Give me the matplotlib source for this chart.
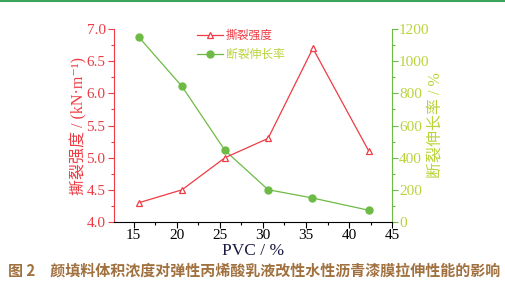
import matplotlib.pyplot as plt
from matplotlib.ticker import MultipleLocator
#
#--data
pvc=[15.6,20.6,25.6,30.6,35.8,42.3]
tear=[4.3,4.5,5.0,5.3,6.7,5.1]          #--kN/m
pvc_el=[15.6,20.6,25.6,30.6,35.7,42.3]
elong=[1150,844,445,201,150,73]          #--%
#
red='#ee3b44'
green='#6dbb45'
ygreen='#b9d43a'
serif=['Liberation Serif','DejaVu Serif']
cjk=['Noto Sans CJK SC','DejaVu Sans']
mixed=['Liberation Serif','Noto Sans CJK SC','DejaVu Serif']
#
fig=plt.figure(figsize=(5.06,2.85),dpi=100)
ax=fig.add_axes([0.225,0.221,0.55,0.677])
ax2=ax.twinx()
#
l1,=ax.plot(pvc,tear,color=red,lw=0.9,marker='^',mfc='white',mec=red,ms=5,mew=0.9,label='撕裂强度')
l2,=ax2.plot(pvc_el,elong,color=green,lw=0.9,marker='o',mfc=green,mec=green,ms=5,label='断裂伸长率')
ax.set_zorder(ax2.get_zorder()+1)
ax.patch.set_visible(False)
#
ax.set_xlim(12.7,45)
ax.set_ylim(4.0,7.0)
ax2.set_ylim(0,1200)
ax.xaxis.set_major_locator(MultipleLocator(5))
ax.xaxis.set_minor_locator(MultipleLocator(2.5))
ax.yaxis.set_major_locator(MultipleLocator(0.5))
ax.yaxis.set_minor_locator(MultipleLocator(0.25))
ax2.yaxis.set_major_locator(MultipleLocator(200))
ax2.yaxis.set_minor_locator(MultipleLocator(100))
#
for a in (ax,ax2):
    a.spines['top'].set_visible(False)
ax.spines['left'].set_color(red)
ax.spines['right'].set_visible(False)
ax2.spines['left'].set_visible(False)
ax2.spines['right'].set_color(green)
ax.spines['bottom'].set_color('black')
ax2.spines['bottom'].set_visible(False)
#
ax.tick_params(axis='x',which='major',length=4,width=0.8,direction='out',labelsize=11,pad=1)
ax.tick_params(axis='x',which='minor',length=2,width=0.8,direction='out')
ax.tick_params(axis='y',which='major',length=4,width=0.8,colors=red,labelsize=11,pad=2)
ax.tick_params(axis='y',which='minor',length=2,width=0.8,colors=red)
ax2.tick_params(axis='y',which='major',length=4,width=0.8,color=green,labelcolor=ygreen,labelsize=11,pad=1)
ax2.tick_params(axis='y',which='minor',length=2,width=0.8,color=green)
for lab in ax.get_xticklabels()+ax.get_yticklabels()+ax2.get_yticklabels():
    lab.set_family(serif)
#
fig.text(0.5,0.118,'PVC / %',family=serif,fontsize=12.5,color='#1a1a40',ha='center',va='center')
ax.set_ylabel('撕裂强度 / (kN·m⁻¹)',family=mixed,fontsize=11.5,color=red,labelpad=-0.5)
ax2.set_ylabel('断裂伸长率 / %',family=mixed,fontsize=11.5,color=ygreen,labelpad=-1)
#
leg=ax.legend(handles=[l1,l2],loc='upper left',bbox_to_anchor=(0.26,1.055),frameon=False,
              prop={'family':cjk,'size':8.5},handlelength=2.2,handletextpad=0.25,labelspacing=0.5)
leg.get_texts()[0].set_color(red)
leg.get_texts()[1].set_color(ygreen)
#
fig.add_artist(plt.Line2D([0,1],[0.998,0.998],color='#3aa55a',lw=1.5))
fig.text(0.016,0.049,'图 2　颜填料体积浓度对弹性丙烯酸乳液改性水性沥青漆膜拉伸性能的影响',
         family=cjk,fontsize=10.8,fontweight='bold',color='#a0703e',va='center')
fig.savefig('out.png',dpi=100)
